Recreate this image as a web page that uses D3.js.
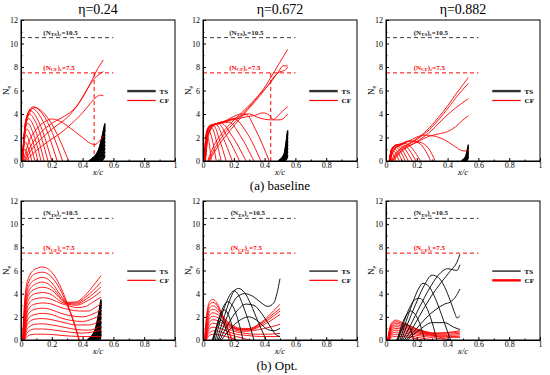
<!DOCTYPE html>
<html><head><meta charset="utf-8">
<script src="https://cdn.jsdelivr.net/npm/d3@7"></script>
<style>body{margin:0;background:#fff} text{font-family:"Liberation Serif","Times New Roman",serif}</style>
</head><body><svg id="c" width="550" height="375"></svg>
<script>
// ---------- data ----------
const titles = ["η=0.24","η=0.672","η=0.882"];
const captions = ["(a) baseline","(b) Opt."];
const xTicks = [0,0.2,0.4,0.6,0.8,1];
const yTicks = [0,2,4,6,8,10,12];
const xMinor = [0.1,0.3,0.5,0.7,0.9];
const yMinor = [1,3,5,7,9,11];
const nTS = 10.5, nCF = 7.5, thrEnd = 0.6;
const thrLabelX = [0.145,0.17,0.18,0.145,0.18,0.18];
const vLineX = [0.475,0.44,null,null,null,null];

// baseline eta=0.24
const cfA1 = [
 [[0.005,0],[0.015,0.7],[0.025,1.0],[0.035,0.8],[0.05,0]],
 [[0.006,0],[0.017,1.1],[0.03,1.6],[0.045,1.2],[0.07,0]],
 [[0.007,0],[0.018,1.5],[0.035,2.2],[0.055,1.6],[0.09,0]],
 [[0.008,0],[0.02,1.9],[0.04,2.7],[0.065,2.1],[0.11,0]],
 [[0.008,0],[0.022,2.3],[0.045,3.2],[0.075,2.5],[0.13,0]],
 [[0.009,0],[0.024,2.6],[0.05,3.6],[0.085,2.9],[0.15,0]],
 [[0.009,0],[0.026,2.9],[0.055,4.0],[0.095,3.3],[0.175,0]],
 [[0.01,0],[0.028,3.2],[0.06,4.3],[0.105,3.6],[0.2,0]],
 [[0.01,0],[0.03,3.4],[0.07,4.5],[0.12,3.9],[0.235,0]],
 [[0.011,0],[0.032,3.5],[0.08,4.62],[0.14,4.0],[0.27,0]],
 [[0.012,0],[0.035,3.4],[0.09,4.55],[0.16,3.9],[0.31,0]],
 [[0.015,0],[0.05,1.6],[0.1,2.7],[0.15,3.3],[0.2,3.58],[0.25,3.4],[0.3,3.0],[0.35,2.5],[0.4,2.0],[0.45,1.5],[0.48,1.4],[0.51,1.7],[0.535,2.1]],
 [[0.02,0],[0.06,1.2],[0.12,2.3],[0.2,3.2],[0.28,3.8],[0.35,4.5],[0.4,5.4],[0.45,6.6],[0.5,7.9],[0.535,8.6]],
 [[0.025,0],[0.07,1.0],[0.14,2.0],[0.22,2.9],[0.3,3.7],[0.37,4.8],[0.42,5.9],[0.47,6.9],[0.51,7.4],[0.535,7.6]],
 [[0.03,0],[0.1,0.9],[0.18,1.7],[0.26,2.4],[0.33,3.2],[0.4,4.1],[0.45,4.9],[0.49,5.45],[0.515,5.6],[0.535,5.55]]
];
const tsA1 = [
 [[0.44,0],[0.5,0.8],[0.545,3.2]],[[0.445,0],[0.502,0.8],[0.545,3.05]],
 [[0.45,0],[0.505,0.8],[0.545,2.9]],[[0.455,0],[0.507,0.8],[0.545,2.75]],
 [[0.46,0],[0.51,0.8],[0.545,2.6]],[[0.465,0],[0.512,0.7],[0.545,2.3]],
 [[0.47,0],[0.515,0.7],[0.545,2.0]],[[0.48,0],[0.52,0.6],[0.545,1.7]],
 [[0.49,0],[0.525,0.5],[0.545,1.4]],[[0.5,0],[0.528,0.4],[0.545,1.1]],
 [[0.51,0],[0.532,0.3],[0.545,0.8]],[[0.52,0],[0.537,0.2],[0.545,0.5]],
 [[0.455,0],[0.47,0.3],[0.485,0]],[[0.47,0],[0.485,0.35],[0.5,0]]
];
// baseline eta=0.672
const cfA2 = [
 [[0.008,0],[0.015,1.5],[0.025,2.2],[0.035,1.9],[0.054,0]],
 [[0.008,0],[0.018,2.0],[0.035,2.7],[0.05,2.3],[0.086,0]],
 [[0.009,0],[0.02,2.2],[0.04,2.9],[0.06,2.8],[0.085,1.8],[0.118,0]],
 [[0.01,0],[0.022,2.4],[0.045,3.0],[0.07,3.0],[0.105,1.9],[0.15,0]],
 [[0.01,0],[0.024,2.5],[0.05,3.05],[0.085,3.1],[0.13,2.0],[0.19,0]],
 [[0.011,0],[0.026,2.5],[0.055,3.1],[0.1,3.15],[0.16,2.0],[0.237,0]],
 [[0.012,0],[0.028,2.5],[0.06,3.1],[0.12,3.2],[0.19,2.1],[0.28,0]],
 [[0.013,0],[0.03,2.5],[0.065,3.1],[0.12,3.25],[0.17,3.3],[0.24,2.2],[0.33,0]],
 [[0.014,0],[0.032,2.4],[0.07,3.1],[0.13,3.3],[0.2,3.6],[0.28,2.5],[0.376,0]],
 [[0.015,0],[0.034,2.3],[0.075,3.1],[0.15,3.4],[0.22,3.7],[0.28,3.95],[0.34,2.7],[0.43,0]],
 [[0.015,0],[0.034,2.3],[0.075,3.1],[0.15,3.45],[0.2,3.8],[0.25,4.0],[0.3,4.0],[0.35,3.75],[0.4,3.55],[0.45,3.5],[0.48,3.75],[0.52,4.3],[0.55,4.6]],
 [[0.016,0],[0.035,2.2],[0.08,3.1],[0.15,3.35],[0.22,3.6],[0.28,3.75],[0.34,3.9],[0.39,4.1],[0.43,3.9],[0.46,3.5],[0.5,3.5],[0.55,4.0]],
 [[0.03,0],[0.07,1.3],[0.12,2.3],[0.18,3.2],[0.25,4.1],[0.32,5.0],[0.38,5.9],[0.44,7.1],[0.49,8.2],[0.55,9.5]],
 [[0.035,0],[0.09,1.4],[0.15,2.5],[0.22,3.5],[0.3,4.6],[0.37,5.7],[0.44,6.7],[0.49,7.6],[0.52,8.1],[0.55,8.1]],
 [[0.04,0],[0.1,1.3],[0.17,2.5],[0.24,3.6],[0.3,4.5],[0.36,5.4],[0.42,6.4],[0.47,7.3],[0.5,7.6],[0.53,7.7],[0.55,8.0]]
];
const tsA2 = [
 [[0.49,0],[0.525,0.5],[0.55,2.6]],[[0.493,0],[0.527,0.5],[0.55,2.45]],
 [[0.495,0],[0.528,0.5],[0.55,2.3]],[[0.5,0],[0.53,0.5],[0.55,2.0]],
 [[0.505,0],[0.533,0.45],[0.55,1.7]],[[0.51,0],[0.536,0.4],[0.55,1.4]],
 [[0.515,0],[0.538,0.35],[0.55,1.1]],[[0.52,0],[0.54,0.3],[0.55,0.8]],
 [[0.53,0],[0.544,0.2],[0.55,0.5]]
];
// baseline eta=0.882
const cfA3 = [
 [[0.02,0],[0.028,0.5],[0.038,0.7],[0.048,0.55],[0.065,0]],
 [[0.021,0],[0.03,0.7],[0.042,0.95],[0.056,0.8],[0.085,0]],
 [[0.022,0],[0.032,0.85],[0.047,1.1],[0.065,0.95],[0.105,0]],
 [[0.023,0],[0.034,0.95],[0.052,1.2],[0.075,1.1],[0.125,0]],
 [[0.024,0],[0.036,1.0],[0.058,1.3],[0.085,1.2],[0.145,0]],
 [[0.025,0],[0.038,1.05],[0.065,1.35],[0.095,1.3],[0.17,0]],
 [[0.026,0],[0.04,1.05],[0.07,1.4],[0.105,1.4],[0.195,0]],
 [[0.027,0],[0.042,1.05],[0.075,1.4],[0.12,1.5],[0.225,0]],
 [[0.028,0],[0.045,0.95],[0.09,1.4],[0.15,1.7],[0.21,1.55],[0.26,0.8],[0.29,0]],
 [[0.028,0],[0.05,0.9],[0.1,1.4],[0.16,1.7],[0.22,1.6],[0.28,1.0],[0.32,0]],
 [[0.025,0],[0.05,0.9],[0.1,1.4],[0.15,1.7],[0.2,2.05],[0.26,2.2],[0.32,2.1],[0.38,1.8],[0.44,1.3],[0.49,0.9],[0.52,0.85],[0.535,1.0]],
 [[0.03,0],[0.08,0.9],[0.15,1.5],[0.22,2.1],[0.28,2.8],[0.34,3.7],[0.4,4.7],[0.46,5.8],[0.535,7.1]],
 [[0.035,0],[0.09,0.9],[0.16,1.5],[0.23,2.1],[0.3,2.9],[0.36,3.8],[0.42,4.8],[0.48,5.8],[0.535,6.6]],
 [[0.04,0],[0.1,0.9],[0.18,1.5],[0.26,2.2],[0.32,2.9],[0.38,3.7],[0.45,4.5],[0.535,5.3]],
 [[0.045,0],[0.11,0.9],[0.2,1.6],[0.28,2.1],[0.34,2.3],[0.4,2.5],[0.45,2.9],[0.5,3.5],[0.535,3.85]]
];
const tsA3 = [
 [[0.49,0],[0.515,0.3],[0.535,1.4]],[[0.495,0],[0.518,0.3],[0.535,1.2]],
 [[0.5,0],[0.52,0.3],[0.535,1.0]],[[0.505,0],[0.523,0.25],[0.535,0.8]],
 [[0.51,0],[0.526,0.2],[0.535,0.6]],[[0.52,0],[0.53,0.15],[0.535,0.4]]
];
// optimised eta=0.24
const cfB1 = [
 [[0.01,0],[0.025,3.6],[0.05,5.4],[0.09,6.1],[0.14,6.3],[0.18,6.1],[0.22,5.5],[0.26,4.5],[0.3,3.2],[0.34,1.7],[0.38,0]],
 [[0.011,0],[0.026,3.3],[0.05,5.0],[0.09,5.7],[0.14,5.85],[0.18,5.65],[0.22,5.1],[0.26,4.2],[0.3,3.0],[0.34,1.6],[0.375,0]],
 [[0.012,0],[0.027,3.0],[0.05,4.6],[0.09,5.2],[0.14,5.4],[0.18,5.2],[0.22,4.6],[0.26,3.8],[0.3,3.25],[0.36,3.3],[0.42,3.9],[0.47,4.7],[0.52,5.55]],
 [[0.013,0],[0.028,2.8],[0.05,4.2],[0.09,4.8],[0.14,5.0],[0.18,4.8],[0.22,4.3],[0.26,3.6],[0.3,3.2],[0.36,3.2],[0.42,3.7],[0.47,4.3],[0.52,5.0]],
 [[0.014,0],[0.029,2.5],[0.05,3.9],[0.09,4.4],[0.14,4.55],[0.2,4.3],[0.26,3.5],[0.3,3.15],[0.36,3.1],[0.42,3.5],[0.47,4.0],[0.52,4.6]],
 [[0.015,0],[0.03,2.3],[0.05,3.5],[0.09,4.0],[0.14,4.1],[0.2,3.9],[0.26,3.3],[0.3,3.1],[0.36,3.0],[0.42,3.3],[0.47,3.7],[0.52,4.2]],
 [[0.016,0],[0.031,2.0],[0.05,3.1],[0.09,3.55],[0.14,3.65],[0.2,3.5],[0.26,3.15],[0.3,3.0],[0.36,2.8],[0.42,2.9],[0.47,3.3],[0.52,3.7]],
 [[0.017,0],[0.032,1.8],[0.05,2.7],[0.09,3.1],[0.14,3.2],[0.2,3.1],[0.26,2.8],[0.32,2.6],[0.38,2.5],[0.44,2.5],[0.48,2.8],[0.52,3.1]],
 [[0.018,0],[0.033,1.5],[0.05,2.3],[0.09,2.65],[0.14,2.75],[0.2,2.6],[0.26,2.3],[0.32,2.1],[0.4,2.0],[0.46,2.2],[0.52,2.6]],
 [[0.019,0],[0.034,1.3],[0.05,1.9],[0.09,2.2],[0.14,2.3],[0.2,2.2],[0.26,1.9],[0.32,1.7],[0.4,1.6],[0.46,1.8],[0.52,2.15]],
 [[0.02,0],[0.035,1.1],[0.05,1.5],[0.09,1.8],[0.14,1.85],[0.2,1.75],[0.28,1.5],[0.36,1.3],[0.44,1.3],[0.52,1.7]],
 [[0.021,0],[0.036,0.8],[0.05,1.1],[0.09,1.35],[0.14,1.4],[0.2,1.3],[0.28,1.1],[0.36,0.9],[0.44,0.85],[0.52,1.2]],
 [[0.022,0],[0.037,0.55],[0.05,0.75],[0.09,0.95],[0.14,0.95],[0.22,0.85],[0.3,0.7],[0.4,0.6],[0.52,0.85]],
 [[0.023,0],[0.04,0.3],[0.06,0.45],[0.1,0.5],[0.16,0.5],[0.26,0.4],[0.38,0.3],[0.52,0.3]]
];
const tsB1 = [
 [[0.43,0],[0.48,0.8],[0.52,3.5]],[[0.435,0],[0.482,0.8],[0.52,3.35]],
 [[0.44,0],[0.485,0.8],[0.52,3.2]],[[0.445,0],[0.487,0.8],[0.52,3.05]],
 [[0.45,0],[0.49,0.8],[0.52,2.9]],[[0.455,0],[0.492,0.7],[0.52,2.6]],
 [[0.46,0],[0.495,0.7],[0.52,2.3]],[[0.47,0],[0.5,0.6],[0.52,2.0]],
 [[0.48,0],[0.505,0.5],[0.52,1.6]],[[0.49,0],[0.508,0.4],[0.52,1.2]],
 [[0.5,0],[0.512,0.3],[0.52,0.8]],[[0.51,0],[0.516,0.2],[0.52,0.5]],
 [[0.445,0],[0.46,0.3],[0.475,0]],[[0.46,0],[0.475,0.35],[0.49,0]]
];
// optimised eta=0.672
const cfB2 = [
 [[0.01,0],[0.025,2.3],[0.045,3.35],[0.065,3.5],[0.09,3.2],[0.13,2.0],[0.17,0.7],[0.19,0]],
 [[0.011,0],[0.026,2.1],[0.045,3.1],[0.065,3.25],[0.09,3.0],[0.13,1.9],[0.17,0.6],[0.185,0]],
 [[0.012,0],[0.027,1.9],[0.045,2.8],[0.065,2.95],[0.1,2.6],[0.15,1.7],[0.2,1.2],[0.25,1.0],[0.3,1.0],[0.36,1.35],[0.42,2.0],[0.46,2.55],[0.5,3.07]],
 [[0.013,0],[0.028,1.7],[0.045,2.5],[0.065,2.65],[0.1,2.4],[0.15,1.6],[0.2,1.1],[0.25,0.95],[0.3,0.95],[0.36,1.3],[0.42,1.85],[0.46,2.3],[0.5,2.7]],
 [[0.014,0],[0.029,1.5],[0.045,2.2],[0.065,2.35],[0.1,2.15],[0.15,1.5],[0.2,1.05],[0.25,0.9],[0.3,0.9],[0.36,1.2],[0.42,1.7],[0.46,2.1],[0.5,2.5]],
 [[0.015,0],[0.03,1.3],[0.045,1.9],[0.065,2.05],[0.1,1.9],[0.15,1.4],[0.2,1.0],[0.25,0.85],[0.3,0.85],[0.36,1.1],[0.42,1.5],[0.46,1.85],[0.5,2.2]],
 [[0.016,0],[0.031,1.1],[0.045,1.6],[0.065,1.75],[0.1,1.65],[0.15,1.25],[0.2,0.9],[0.26,0.75],[0.32,0.8],[0.4,1.0],[0.46,1.2],[0.5,1.35]],
 [[0.017,0],[0.032,0.9],[0.045,1.3],[0.065,1.45],[0.1,1.35],[0.15,1.05],[0.2,0.75],[0.26,0.6],[0.34,0.5],[0.42,0.5],[0.5,0.57]],
 [[0.018,0],[0.033,0.7],[0.045,1.0],[0.065,1.1],[0.1,1.05],[0.15,0.8],[0.2,0.55],[0.28,0.4],[0.38,0.3],[0.5,0.3]],
 [[0.019,0],[0.034,0.5],[0.05,0.7],[0.07,0.8],[0.1,0.75],[0.15,0.55],[0.2,0.35],[0.26,0.15],[0.3,0]],
 [[0.02,0],[0.035,0.3],[0.05,0.45],[0.07,0.5],[0.1,0.45],[0.15,0.3],[0.2,0.1],[0.22,0]]
];
const tsB2 = [
 [[0.06,0],[0.08,0.8],[0.1,1.5],[0.12,1.7],[0.14,1.3],[0.17,0]],
 [[0.065,0],[0.09,1.3],[0.12,2.4],[0.14,2.6],[0.17,2.0],[0.21,0]],
 [[0.07,0],[0.1,1.6],[0.13,2.8],[0.16,3.3],[0.19,3.0],[0.23,1.6],[0.26,0]],
 [[0.08,0],[0.11,1.6],[0.15,3.2],[0.18,4.0],[0.2,4.25],[0.23,3.9],[0.27,2.6],[0.31,1.0],[0.33,0]],
 [[0.09,0],[0.13,1.7],[0.17,3.3],[0.2,4.2],[0.23,4.45],[0.27,4.1],[0.31,3.1],[0.36,1.5],[0.4,0.3],[0.41,0]],
 [[0.1,0],[0.14,1.4],[0.18,2.8],[0.22,3.7],[0.27,4.0],[0.32,3.8],[0.37,3.3],[0.42,2.9],[0.46,3.2],[0.48,4.0],[0.5,5.3]],
 [[0.11,0],[0.16,1.3],[0.22,2.5],[0.28,3.1],[0.33,3.0],[0.38,2.3],[0.43,1.3],[0.47,0.5],[0.5,0.3]],
 [[0.12,0],[0.18,1.0],[0.25,1.8],[0.3,2.0],[0.36,1.6],[0.42,0.9],[0.46,0.8],[0.5,1.0]]
];
// optimised eta=0.882
const cfB3 = [
 [[0.01,0],[0.025,1.1],[0.045,1.6],[0.065,1.72],[0.1,1.55],[0.15,1.25],[0.2,0.95],[0.26,0.6],[0.32,0.35],[0.38,0.12],[0.41,0]],
 [[0.011,0],[0.026,1.0],[0.045,1.48],[0.065,1.58],[0.1,1.45],[0.15,1.2],[0.2,0.95],[0.26,0.72],[0.32,0.6],[0.4,0.65],[0.48,0.8]],
 [[0.012,0],[0.027,0.9],[0.045,1.35],[0.065,1.45],[0.1,1.35],[0.15,1.1],[0.2,0.88],[0.26,0.68],[0.32,0.58],[0.4,0.6],[0.48,0.7]],
 [[0.013,0],[0.028,0.82],[0.045,1.22],[0.065,1.3],[0.1,1.22],[0.15,1.0],[0.2,0.8],[0.26,0.62],[0.32,0.52],[0.4,0.5],[0.48,0.58]],
 [[0.014,0],[0.029,0.72],[0.045,1.08],[0.065,1.15],[0.1,1.08],[0.15,0.9],[0.2,0.72],[0.26,0.55],[0.32,0.45],[0.4,0.4],[0.48,0.45]],
 [[0.015,0],[0.03,0.62],[0.045,0.92],[0.065,1.0],[0.1,0.95],[0.15,0.78],[0.2,0.62],[0.26,0.47],[0.34,0.36],[0.42,0.3],[0.48,0.32]],
 [[0.016,0],[0.031,0.52],[0.045,0.78],[0.065,0.85],[0.1,0.8],[0.15,0.66],[0.2,0.52],[0.28,0.36],[0.36,0.26],[0.48,0.22]],
 [[0.017,0],[0.032,0.42],[0.045,0.62],[0.065,0.68],[0.1,0.64],[0.16,0.5],[0.22,0.36],[0.3,0.2],[0.38,0.08],[0.42,0]],
 [[0.018,0],[0.033,0.3],[0.045,0.45],[0.065,0.5],[0.1,0.46],[0.16,0.34],[0.22,0.2],[0.28,0.06],[0.3,0]],
 [[0.019,0],[0.034,0.2],[0.05,0.3],[0.07,0.32],[0.1,0.3],[0.16,0.2],[0.22,0.05],[0.24,0]]
];
const tsB3 = [
 [[0.07,0],[0.09,0.6],[0.11,1.1],[0.13,1.4],[0.15,1.2],[0.18,0]],
 [[0.075,0],[0.1,1.2],[0.13,2.1],[0.16,2.5],[0.19,2.2],[0.23,1.0],[0.25,0]],
 [[0.08,0],[0.11,1.3],[0.15,2.7],[0.19,3.5],[0.22,3.6],[0.26,2.9],[0.3,1.5],[0.33,0]],
 [[0.09,0],[0.13,1.6],[0.17,3.1],[0.21,4.4],[0.24,4.9],[0.28,4.6],[0.32,3.6],[0.36,2.2],[0.4,0.7],[0.42,0]],
 [[0.1,0],[0.14,1.4],[0.19,3.0],[0.24,4.5],[0.3,5.6],[0.34,5.4],[0.38,4.6],[0.42,3.3],[0.45,2.2],[0.46,1.9],[0.48,2.1]],
 [[0.11,0],[0.16,1.3],[0.22,2.9],[0.28,4.4],[0.34,5.6],[0.4,6.15],[0.44,6.05],[0.46,6.0],[0.48,6.5]],
 [[0.12,0],[0.18,1.2],[0.24,2.6],[0.3,3.9],[0.36,5.0],[0.42,6.0],[0.46,6.7],[0.48,7.4]],
 [[0.13,0],[0.2,1.0],[0.26,1.9],[0.32,2.6],[0.38,3.1],[0.42,3.3],[0.45,3.7],[0.48,4.4]],
 [[0.14,0],[0.22,0.9],[0.3,1.5],[0.38,1.5],[0.44,1.1],[0.48,0.9]]
];

// ---------- layout ----------
const colLeft = [21, 203, 386];
const rowTop = [20, 201];
const rowH = [141, 139];
const plotW = 154;
const panels = [
  {c:0,r:0,cf:cfA1,ts:tsA1,tsFirst:true, wide:"TS", spike:true},
  {c:1,r:0,cf:cfA2,ts:tsA2,tsFirst:true, wide:"TS", spike:true},
  {c:2,r:0,cf:cfA3,ts:tsA3,tsFirst:true, wide:"TS", spike:true},
  {c:0,r:1,cf:cfB1,ts:tsB1,tsFirst:true, wide:null, spike:true},
  {c:1,r:1,cf:cfB2,ts:tsB2,tsFirst:false, wide:null, spike:false},
  {c:2,r:1,cf:cfB3,ts:tsB3,tsFirst:false, wide:"CF", spike:false}
];
const RED = "#ff0000", BLK = "#000";

const svg = d3.select("#c");
svg.append("rect").attr("width",550).attr("height",375).attr("fill","#fff");

panels.forEach((p,i)=>{
  const L = colLeft[p.c], T = rowTop[p.r], H = rowH[p.r];
  const x = d3.scaleLinear().domain([0,1]).range([0,plotW]);
  const y = d3.scaleLinear().domain([0,12]).range([H,0]);
  const g = svg.append("g").attr("transform",`translate(${L},${T})`);
  const line = d3.line().x(d=>x(d[0])).y(d=>y(d[1])).curve(d3.curveMonotoneX);

  // threshold lines
  g.append("line").attr("x1",x(0)).attr("x2",x(thrEnd)).attr("y1",y(nTS)).attr("y2",y(nTS))
    .attr("stroke","#444").attr("stroke-width",1).attr("stroke-dasharray","4,3");
  g.append("line").attr("x1",x(0)).attr("x2",x(thrEnd)).attr("y1",y(nCF)).attr("y2",y(nCF))
    .attr("stroke",RED).attr("stroke-width",1).attr("stroke-dasharray","4,3");
  if (vLineX[i]!=null){
    g.append("line").attr("x1",x(vLineX[i])).attr("x2",x(vLineX[i])).attr("y1",y(0)).attr("y2",y(nCF))
      .attr("stroke",RED).attr("stroke-width",1).attr("stroke-dasharray","4,3");
  }
  // threshold labels
  function thrLabel(val, sub, color){
    const t = g.append("text").attr("x",x(thrLabelX[i])).attr("y",y(val)-3)
      .attr("font-size",7).attr("font-weight","bold").attr("fill",color);
    t.append("tspan").text("(N");
    t.append("tspan").attr("font-size",5).attr("dy",1.5).text(sub);
    t.append("tspan").attr("dy",-1.5).text(")");
    t.append("tspan").attr("font-size",5).attr("dy",1.5).text("e");
    t.append("tspan").attr("dy",-1.5).text("="+val);
  }
  thrLabel(nTS,"TS","#222");
  thrLabel(nCF,"CF",RED);

  function drawSet(set,color,w){
    g.append("g").selectAll("path").data(set).join("path")
      .attr("d",line).attr("fill","none").attr("stroke",color).attr("stroke-width",w);
  }
  const tsW = p.spike?1.5:0.9;
  if (p.tsFirst){ drawSet(p.ts,BLK,tsW); drawSet(p.cf,RED,0.9); }
  else { drawSet(p.cf,RED,0.9); drawSet(p.ts,BLK,tsW); }

  // legend
  const lg = [["TS",BLK,5.95],["CF",RED,5.15]];
  lg.forEach(([name,col,v])=>{
    g.append("line").attr("x1",x(0.69)).attr("x2",x(0.875)).attr("y1",y(v)).attr("y2",y(v))
      .attr("stroke", (p.wide===name && name==="TS")?"#333":col)
      .attr("stroke-width", p.wide===name?2.4:1.2);
    g.append("text").attr("x",x(0.9)).attr("y",y(v)+2.5).attr("font-size",7)
      .attr("font-weight","bold").text(name);
  });

  // axes
  g.append("g").attr("transform",`translate(0,${H})`)
    .call(d3.axisBottom(x).tickValues(xTicks).tickFormat(d3.format("~g")).tickSizeInner(-3).tickSizeOuter(0).tickPadding(1.5));
  g.append("g").attr("transform",`translate(0,${H})`)
    .call(d3.axisBottom(x).tickValues(xMinor).tickFormat("").tickSizeInner(-1.5).tickSizeOuter(0))
    .select(".domain").remove();
  g.append("g")
    .call(d3.axisLeft(y).tickValues(yTicks).tickFormat(d3.format("~g")).tickSizeInner(-3).tickSizeOuter(0).tickPadding(3));
  g.append("g")
    .call(d3.axisLeft(y).tickValues(yMinor).tickFormat("").tickSizeInner(-1.5).tickSizeOuter(0))
    .select(".domain").remove();
  g.selectAll(".tick text").attr("font-size",8);
  g.selectAll(".tick line, .domain").attr("stroke","#000");
  g.append("rect").attr("x",0).attr("y",0).attr("width",plotW).attr("height",H)
    .attr("fill","none").attr("stroke","#000").attr("stroke-width",1);

  // axis titles
  g.append("text").attr("x",plotW/2).attr("y",H+14).attr("text-anchor","middle")
    .attr("font-size",9).attr("font-style","italic").text("x/c");
  const yl = g.append("text").attr("transform",`translate(-12,${H/2}) rotate(-90)`)
    .attr("text-anchor","middle").attr("font-size",9);
  yl.append("tspan").text("N");
  yl.append("tspan").attr("font-size",6).attr("dy",2).text("e");

  if (p.r===0){
    svg.append("text").attr("x",L+plotW/2).attr("y",14).attr("text-anchor","middle")
      .attr("font-size",14).text(titles[p.c]);
  }
});

svg.append("text").attr("x",280).attr("y",190).attr("text-anchor","middle").attr("font-size",13).text(captions[0]);
svg.append("text").attr("x",277).attr("y",370).attr("text-anchor","middle").attr("font-size",13).text(captions[1]);
</script></body></html>
